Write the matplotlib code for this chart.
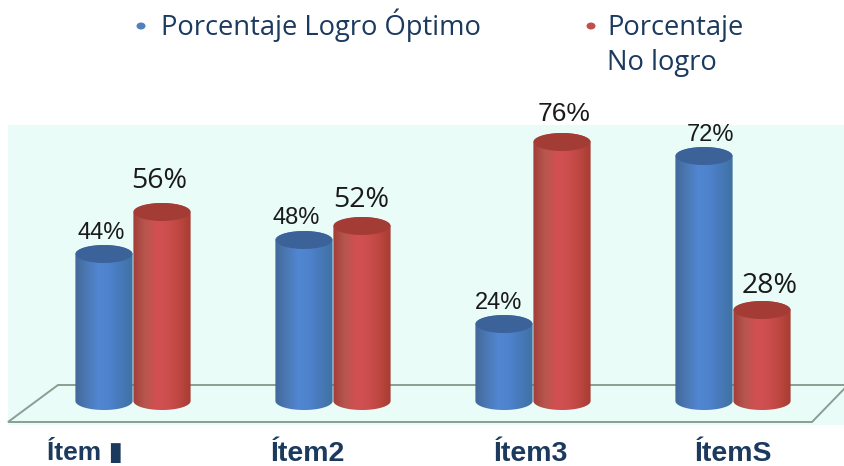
import numpy as np
import matplotlib
matplotlib.use("Agg")
import matplotlib.pyplot as plt
from matplotlib.colors import LinearSegmentedColormap
from matplotlib.patches import Ellipse, PathPatch, Polygon, Rectangle
from matplotlib.path import Path

# data
items = ["Ítem ▮", "Ítem2", "Ítem3", "ÍtemS"]
logro = [44, 48, 24, 72]
no_logro = [56, 52, 76, 28]

# layout of the value labels (offset from the top of the bar, px, and font size)
logro_dx = [-3, -8, -5, 6]
logro_dy = [10, 11, 10, 10]
logro_fs = [17, 17, 17, 17]
no_logro_dx = [-3, -1, 2, 8]
no_logro_dy = [17, 12, 16, 10]
no_logro_fs = [20.5, 20.5, 19, 20.5]
# item labels: centre relative to the group centre (px), font size, centre height (px)
item_dx = [-48, -25, -2, 0]
item_fs = [19, 20.5, 20.5, 20.5]
item_y = [452, 454, 454, 454]

W, H = 845, 466
NAVY = "#1B3A5E"
blue_cm = LinearSegmentedColormap.from_list("b", ["#41689A", "#4C78B4", "#5186D2", "#4E82CC", "#4679B8", "#3F72A2"])
red_cm = LinearSegmentedColormap.from_list("r", ["#A23E38", "#B6564E", "#D25052", "#CE4E4E", "#BE4742", "#A63C32"])

fig = plt.figure(figsize=(W / 100, H / 100), dpi=100)
ax = fig.add_axes([0, 0, 1, 1])

# x: one group = 200 px, y: one percent = 3.5 px, zero at 408 px
x0, sx = 133, 200
y0, sy = 408, 3.5
ax.set_xlim(-x0 / sx, (W - x0) / sx)
ax.set_ylim((y0 - H) / sy, y0 / sy)
ax.axis("off")


def fx(x):
    return x / W


def fy(y):
    return 1 - y / H


# background band and floor
fig.patches.append(Rectangle((fx(8), fy(425)), fx(W - 8), 300 / H, transform=fig.transFigure,
                             facecolor="#E9FCF7", edgecolor="none", zorder=-5))
floor = [(8, 422), (58, 385), (845, 385), (845, 388), (812, 422)]
fig.patches.append(Polygon([(fx(a), fy(b)) for a, b in floor], closed=True, transform=fig.transFigure,
                           facecolor="none", edgecolor="#8A9E92", lw=1.4, zorder=-4))

bar_w = 0.143
rx = bar_w
ry = 9 / sy
base = 2.0
t = np.linspace(0, np.pi, 60)


def cylinder(xc, val, cmap, top_color):
    # body: sides plus the lower and upper arcs of the ellipses
    xs = np.r_[xc + rx * np.cos(t), xc + rx * np.cos(t[::-1])]
    ys = np.r_[val + ry * np.sin(t), base - ry * np.sin(t[::-1])]
    clip = PathPatch(Path(np.c_[xs, ys]), transform=ax.transData, facecolor="none", edgecolor="none")
    ax.add_patch(clip)
    grad = np.linspace(0, 1, 128).reshape(1, -1)
    im = ax.imshow(grad, cmap=cmap, extent=(xc - rx, xc + rx, base - ry, val + ry),
                   aspect="auto", zorder=3, interpolation="bilinear")
    im.set_clip_path(clip)
    ax.add_patch(Ellipse((xc, val), 2 * rx * 0.99, 2 * ry, facecolor=top_color, edgecolor="none", zorder=4))


pos = np.arange(len(items))
for i in pos:
    cylinder(i - 0.145, logro[i], blue_cm, "#3B639A")
    cylinder(i + 0.145, no_logro[i], red_cm, "#A43C36")
    ax.annotate(f"{logro[i]}%", (i - 0.145, logro[i]), xytext=(logro_dx[i], logro_dy[i]),
                textcoords="offset pixels", ha="center", va="bottom", fontsize=logro_fs[i],
                color="#1A1A1A", family="Liberation Sans", zorder=6)
    ax.annotate(f"{no_logro[i]}%", (i + 0.145, no_logro[i]), xytext=(no_logro_dx[i], no_logro_dy[i]),
                textcoords="offset pixels", ha="center", va="bottom", fontsize=no_logro_fs[i],
                color="#1A1A1A", family="Open Sans" if i != 2 else "Liberation Sans", zorder=6)
    ax.text(i + item_dx[i] / sx, (y0 - item_y[i]) / sy, items[i], ha="center", va="center", fontsize=item_fs[i],
            fontweight="bold", color=NAVY, family=["Liberation Sans", "DejaVu Sans"])

# legend
fig.patches.append(Ellipse((fx(141), fy(26)), 9 / W, 7 / H, transform=fig.transFigure, facecolor="#4F81BD", edgecolor="none"))
fig.patches.append(Ellipse((fx(591), fy(26)), 9 / W, 7 / H, transform=fig.transFigure, facecolor="#C0504D", edgecolor="none"))
fig.text(fx(161), fy(35), "Porcentaje Logro Óptimo", va="baseline", fontsize=19.7, color=NAVY, family="Open Sans")
fig.text(fx(607), fy(35), "Porcentaje", va="baseline", fontsize=19.7, color=NAVY, family="Open Sans")
fig.text(fx(607), fy(70), "No logro", va="baseline", fontsize=19.7, color=NAVY, family="Open Sans")

fig.savefig("out.png", dpi=100)
